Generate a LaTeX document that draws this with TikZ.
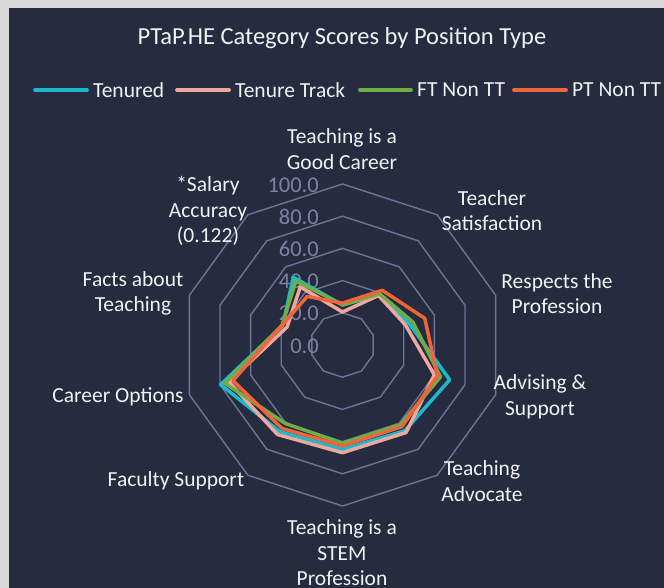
\documentclass[tikz,border=0pt]{standalone}
\usepackage{fontspec}
\setmainfont{Carlito}
\definecolor{bgdark}{RGB}{38,43,63}
\definecolor{framegray}{RGB}{217,217,217}
\definecolor{gridc}{RGB}{108,117,152}
\definecolor{axlab}{RGB}{124,132,165}
\definecolor{tenc}{RGB}{28,185,205}
\definecolor{ttc}{RGB}{240,168,158}
\definecolor{ftc}{RGB}{112,173,71}
\definecolor{ptc}{RGB}{240,100,58}
\definecolor{txt}{RGB}{242,242,242}
\begin{document}
\begin{tikzpicture}[x=1pt,y=-1pt,
 lab/.style={text=txt, font=\fontsize{21.5}{25.5}\selectfont, align=center, inner sep=0pt},
 axl/.style={text=axlab, font=\fontsize{22.5}{25}\selectfont, anchor=east, inner sep=0pt},
 ser/.style={line width=3.5pt, line join=round},
 gridline/.style={draw=gridc, line width=1.4pt},
 legline/.style={line width=3.8pt, line cap=round},
 legt/.style={text=txt, font=\fontsize{21.5}{24}\selectfont, anchor=west, inner sep=0pt}]
\useasboundingbox (0,0) rectangle (664,588);
\fill[framegray] (0,0) rectangle (664,588);
\fill[bgdark] (9,8) rectangle (664,588);
\node[text=txt, font=\fontsize{24.5}{28}\selectfont, inner sep=0pt] (title) at (342,38) {PTaP.HE Category Scores by Position Type};
% legend
\coordinate (l1a) at (35,90); \coordinate (l1b) at (87,90);
\coordinate (l2a) at (177,90); \coordinate (l2b) at (229,90);
\coordinate (l3a) at (360,90); \coordinate (l3b) at (411,90);
\coordinate (l4a) at (514,90); \coordinate (l4b) at (566,90);
\draw[legline, tenc] (l1a) -- (l1b);
\draw[legline, ttc] (l2a) -- (l2b);
\draw[legline, ftc] (l3a) -- (l3b);
\draw[legline, ptc] (l4a) -- (l4b);
\node[legt] (lt1) at (93,90) {Tenured};
\node[legt] (lt2) at (235,90) {Tenure Track};
\node[legt] (lt3) at (417,90) {FT Non TT};
\node[legt] (lt4) at (572,90) {PT Non TT};
% radar
\begin{scope}[shift={(342.5,345)}, x=1.61pt, y=1.61pt]
 \foreach \r in {20,40,...,100}
   \draw[gridline] (90:\r) \foreach \a in {54,18,...,-234} {-- (\a:\r)} -- cycle;
\end{scope}
\node[axl] (a0) at (319,346) {0.0};
\node[axl] (a20) at (319,313) {20.0};
\node[axl] (a40) at (319,281) {40.0};
\node[axl] (a60) at (319,249) {60.0};
\node[axl] (a80) at (319,217) {80.0};
\node[axl] (a100) at (319,185) {100.0};
\begin{scope}[shift={(342.5,345)}, x=1.61pt, y=1.61pt]
 \draw[ser, tenc] (90:24.8) -- (54:38.5) -- (18:43.5) -- (-18:70) -- (-54:65.8) -- (-90:64.8) -- (-126:66.4) -- (-162:79.6) -- (-198:39) -- (-234:52) -- cycle;
 \draw[ser, ttc] (90:20.5) -- (54:38) -- (18:41) -- (-18:60) -- (-54:67.2) -- (-90:66.9) -- (-126:68.7) -- (-162:74.2) -- (-198:36.2) -- (-234:44.6) -- cycle;
 \draw[ser, ftc] (90:25) -- (54:39.3) -- (18:46) -- (-18:64) -- (-54:61.2) -- (-90:61) -- (-126:60.3) -- (-162:76.8) -- (-198:39.5) -- (-234:49.2) -- cycle;
 \draw[ser, ptc] (90:26) -- (54:42) -- (18:53.7) -- (-18:62) -- (-54:62.7) -- (-90:62.7) -- (-126:64) -- (-162:71.6) -- (-198:39.5) -- (-234:37.3) -- cycle;
\end{scope}
% category labels
\node[lab] (c0) at (342,149) {Teaching is a\\Good Career};
\node[lab] (c1) at (492,210.5) {Teacher\\Satisfaction};
\node[lab] (c2) at (557,293.5) {Respects the\\Profession};
\node[lab] (c3) at (540,397) {Advising \&\\Support};
\node[lab] (c4) at (482,481) {Teaching\\Advocate};
\node[lab] (c5) at (342,553) {Teaching is a\\STEM\\Profession};
\node[lab] (c6) at (176,481) {Faculty Support};
\node[lab] (c7) at (118,397) {Career Options};
\node[lab] (c8) at (133,293.5) {Facts about\\Teaching};
\node[lab] (c9) at (208,211) {*Salary\\Accuracy\\(0.122)};
\end{tikzpicture}
\end{document}
